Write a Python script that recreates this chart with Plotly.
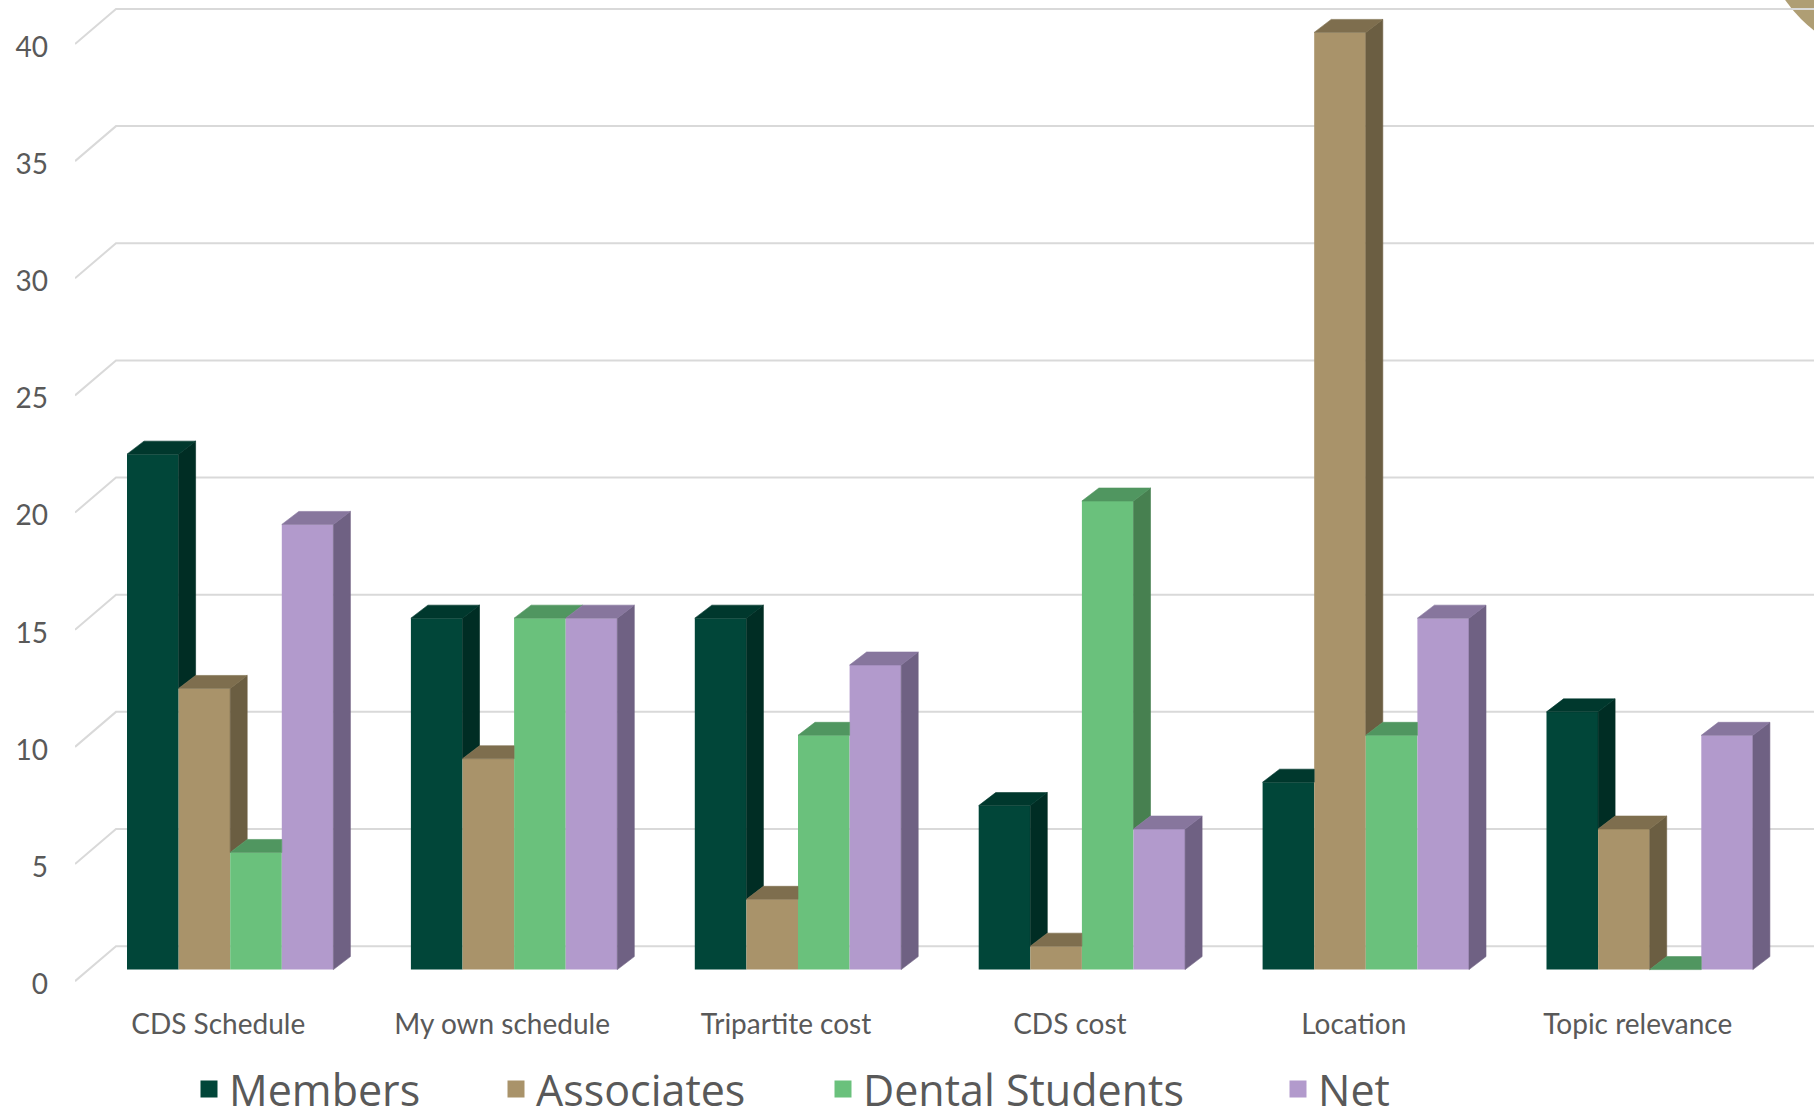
import plotly.graph_objects as go

# ---------------- data ----------------
categories = ["CDS Schedule", "My own schedule", "Tripartite cost", "CDS cost", "Location", "Topic relevance"]
members = [22, 15, 15, 7, 8, 11]
associates = [12, 9, 3, 1, 40, 6]
dental_students = [5, 15, 10, 20, 10, 0]
net = [19, 15, 13, 6, 15, 10]
series_names = ["Members", "Associates", "Dental Students", "Net"]
y_ticks = [0, 5, 10, 15, 20, 25, 30, 35, 40]

series_values = [members, associates, dental_students, net]
front_colors = ["#014639", "#A9936A", "#6AC17C", "#B29ACC"]
side_colors = ["#002D24", "#6B5E42", "#478050", "#6F6183"]
top_colors = ["#00382D", "#7E6E4E", "#509660", "#87769D"]

# ---------------- geometry (layout constants) ----------------
W, H = 1814, 1119
ML, MB, MT = 75, 119, 0
PLOT_H = H - MT - MB
PLOT_W = W - ML
GROUP0_PX, GROUP_STEP_PX = 230.2, 283.9
BASE_PX, PX_PER_UNIT = 969.6, 23.43
BACK_LEFT_PX = 116
LABEL_DROP_PX = 35

x_range = [(ML - GROUP0_PX) / GROUP_STEP_PX, (W - GROUP0_PX) / GROUP_STEP_PX]
front_top = (BASE_PX - MT) / PX_PER_UNIT
front_range = [front_top - PLOT_H / PX_PER_UNIT, front_top]
FLOOR_DEPTH = 1.0  # back wall offset in value units
back_range = [front_range[0] - FLOOR_DEPTH, front_range[1] - FLOOR_DEPTH]
x_back_left = (BACK_LEFT_PX - GROUP0_PX) / GROUP_STEP_PX

BW = 51.6 / GROUP_STEP_PX
OFFS = [-2 * BW + j * BW for j in range(4)]
DX = 17 / GROUP_STEP_PX
DY = 13 / PX_PER_UNIT

fig = go.Figure()

# decorative circle (top right corner)
fig.add_shape(type="circle", xref="paper", yref="paper",
              x0=(1760 - ML) / PLOT_W, x1=(2040 - ML) / PLOT_W,
              y0=(PLOT_H - 60) / PLOT_H, y1=(PLOT_H + 220) / PLOT_H,
              fillcolor="#AF9E74", line=dict(width=0), layer="below")

# back wall gridlines + floor diagonals (on back axis y)
gx, gy = [], []
diag_drop = LABEL_DROP_PX / PX_PER_UNIT
for v in y_ticks:
    gx += [x_range[0], x_back_left, x_range[1], None]
    gy += [v - diag_drop, v, v, None]
fig.add_trace(go.Scatter(x=gx, y=gy, mode="lines", line=dict(color="#D9D9D9", width=2),
                         hoverinfo="skip", showlegend=False, xaxis="x", yaxis="y"))

# front faces
for j, (name, vals) in enumerate(zip(series_names, series_values)):
    fig.add_trace(go.Bar(
        x=list(range(len(categories))), y=vals, name=name,
        width=BW, offset=OFFS[j], legendgroup=name, showlegend=False,
        marker=dict(color=front_colors[j], line=dict(width=0)),
        xaxis="x", yaxis="y2",
    ))
    # legend entry (no drawn bars) with a larger swatch
    fig.add_trace(go.Bar(
        x=[None], y=[None], name=name, legendgroup=name, showlegend=True,
        marker=dict(color=front_colors[j], line=dict(color=front_colors[j], width=5)),
        xaxis="x", yaxis="y2", hoverinfo="skip",
        legend="legend" if j == 0 else f"legend{j + 1}",
    ))

# side and top faces (visible parts)
for j, vals in enumerate(series_values):
    sx, sy, tx, ty = [], [], [], []
    for i, v in enumerate(vals):
        xl = i + OFFS[j]
        xr = xl + BW
        u = series_values[j + 1][i] if j < 3 else None
        # side face
        if u is None:
            poly = [(xr, 0), (xr, v), (xr + DX, v + DY), (xr + DX, DY)]
        elif v > u:
            poly = [(xr, u), (xr, v), (xr + DX, v + DY), (xr + DX, u + DY)]
        else:
            poly = []
        if poly:
            sx += [p[0] for p in poly] + [poly[0][0], None]
            sy += [p[1] for p in poly] + [poly[0][1], None]
        # top face
        if u is None or u <= v:
            poly = [(xl, v), (xr, v), (xr + DX, v + DY), (xl + DX, v + DY)]
        elif u >= v + DY:
            poly = [(xl, v), (xr, v), (xr, v + DY), (xl + DX, v + DY)]
        else:
            poly = [(xl, v), (xr, v), (xr, u), (xr + DX * (u - v) / DY, u),
                    (xr + DX, v + DY), (xl + DX, v + DY)]
        tx += [p[0] for p in poly] + [poly[0][0], None]
        ty += [p[1] for p in poly] + [poly[0][1], None]
    fig.add_trace(go.Scatter(x=sx, y=sy, mode="lines", fill="toself",
                             fillcolor=side_colors[j], line=dict(color=side_colors[j], width=0.6),
                             hoverinfo="skip", showlegend=False, xaxis="x", yaxis="y2"))
    fig.add_trace(go.Scatter(x=tx, y=ty, mode="lines", fill="toself",
                             fillcolor=top_colors[j], line=dict(color=top_colors[j], width=0.6),
                             hoverinfo="skip", showlegend=False, xaxis="x", yaxis="y2"))

tick_font = dict(family="Lato, Open Sans, sans-serif", size=28, color="#595959")
legend_font = dict(family="Open Sans, sans-serif", size=43, color="#595959")

layout = dict(
    width=W, height=H,
    margin=dict(l=ML, r=0, t=MT, b=MB, pad=0, autoexpand=False),
    paper_bgcolor="white", plot_bgcolor="rgba(0,0,0,0)",
    barmode="overlay",
    showlegend=True,
    xaxis=dict(range=x_range, tickmode="array", tickvals=list(range(len(categories))),
               ticktext=categories, showgrid=False, zeroline=False, showline=False,
               ticks="", tickfont=tick_font, ticklabelshift=-12, ticklabelstandoff=5,
               fixedrange=True),
    yaxis=dict(range=back_range, tickmode="array", tickvals=y_ticks,
               ticktext=[str(t) for t in y_ticks], showgrid=False, zeroline=False,
               showline=False, ticks="", tickfont=tick_font,
               ticklabelshift=LABEL_DROP_PX + 3, ticklabelstandoff=26, fixedrange=True),
    yaxis2=dict(range=front_range, overlaying="y", visible=False, fixedrange=True),
)

text_starts = [229, 536, 863, 1318]
LEGEND_CENTER_PX = 1089
for j, ts in enumerate(text_starts):
    key = "legend" if j == 0 else f"legend{j + 1}"
    layout[key] = dict(x=(ts - 40 - ML) / PLOT_W, xanchor="left",
                       y=(PLOT_H - LEGEND_CENTER_PX + MT) / PLOT_H, yanchor="middle",
                       orientation="h", font=legend_font, bgcolor="rgba(0,0,0,0)",
                       borderwidth=0, itemclick=False, itemdoubleclick=False)

fig.update_layout(**layout)
fig.write_html("out.html")
